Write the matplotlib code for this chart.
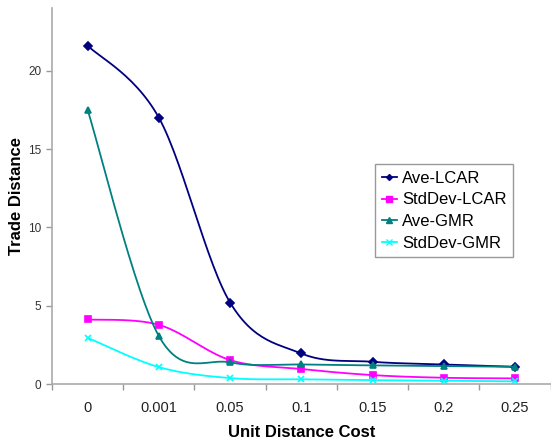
import numpy as np
import matplotlib
matplotlib.use("Agg")
import matplotlib.pyplot as plt

plt.rcParams['font.family'] = ['Liberation Sans', 'DejaVu Sans']

# data
costs = ['0', '0.001', '0.05', '0.1', '0.15', '0.2', '0.25']
ave_lcar = [21.6, 17.0, 5.2, 1.95, 1.42, 1.25, 1.1]
std_lcar = [4.12, 3.78, 1.53, 0.96, 0.57, 0.40, 0.36]
ave_gmr = [17.5, 3.06, 1.38, 1.25, 1.19, 1.15, 1.1]
std_gmr = [2.95, 1.08, 0.38, 0.30, 0.25, 0.21, 0.17]


def smooth(x, y, n=30):
    # Excel-style smoothed line: Catmull-Rom Bezier between the points
    x = np.asarray(x, float)
    y = np.asarray(y, float)
    px = np.concatenate([[x[0]], x, [x[-1]]])
    py = np.concatenate([[y[0]], y, [y[-1]]])
    t = np.linspace(0, 1, n)[:, None]
    xs, ys = [], []
    for i in range(1, len(px) - 2):
        p0 = np.array([px[i], py[i]])
        p3 = np.array([px[i + 1], py[i + 1]])
        p1 = p0 + (p3 - np.array([px[i - 1], py[i - 1]])) / 6
        p2 = p3 - (np.array([px[i + 2], py[i + 2]]) - p0) / 6
        b = ((1 - t) ** 3) * p0 + 3 * ((1 - t) ** 2) * t * p1 + 3 * (1 - t) * t ** 2 * p2 + t ** 3 * p3
        xs.append(b[:, 0])
        ys.append(b[:, 1])
    return np.concatenate(xs), np.concatenate(ys)


fig = plt.figure(figsize=(5.51, 4.45), dpi=100)
ax = fig.add_axes([0.0944, 0.137, 0.905, 0.845])

xpos = np.arange(len(costs))
series = [
    ('Ave-LCAR', ave_lcar, '#000080', 'D', 4),
    ('StdDev-LCAR', std_lcar, '#FF00FF', 's', 5),
    ('Ave-GMR', ave_gmr, '#008080', '^', 5),
    ('StdDev-GMR', std_gmr, '#00FFFF', 'x', 5),
]
for name, vals, col, mk, ms in series:
    sx, sy = smooth(xpos, vals)
    ax.plot(sx, sy, color=col, lw=1.3)
    ax.plot(xpos, vals, linestyle='none', marker=mk, color=col, ms=ms, mew=1.2)
    ax.plot([], [], color=col, lw=1.3, marker=mk, ms=ms - 1, label=name)

ax.set_xlim(-0.5, len(costs) - 0.5)
ax.set_ylim(0, 24)
ax.set_yticks([0, 5, 10, 15, 20])
ax.set_xticks(xpos)
ax.set_xticklabels(costs, fontsize=10.5, color='#222222')
ax.set_xticks(np.arange(-0.5, len(costs)), minor=True)
ax.tick_params(axis='x', which='major', length=0, pad=12)
ax.tick_params(axis='x', which='minor', length=4, color='#999999', width=1)
ax.tick_params(axis='y', labelsize=8.5, length=4, width=1, colors='#999999')
for lab in ax.get_yticklabels():
    lab.set_color('#333333')

for s in ['top', 'right']:
    ax.spines[s].set_visible(False)
for s in ['left', 'bottom']:
    ax.spines[s].set_color('#aaaaaa')
    ax.spines[s].set_linewidth(1.2)

ax.set_xlabel('Unit Distance Cost', fontsize=12, fontweight='bold', va='center')
ax.set_ylabel('Trade Distance', fontsize=12, fontweight='bold', va='center')
ax.xaxis.set_label_coords(0.5, -0.128)
ax.yaxis.set_label_coords(-0.072, 0.5)

leg = ax.legend(loc='upper left', bbox_to_anchor=(0.648, 0.585), fontsize=12,
                handlelength=0.9, handletextpad=0.3, labelspacing=0.4,
                borderpad=0.4, borderaxespad=0, fancybox=False, framealpha=1,
                edgecolor='#999999')
leg.get_frame().set_linewidth(1.0)

fig.savefig('out.png', dpi=100)
